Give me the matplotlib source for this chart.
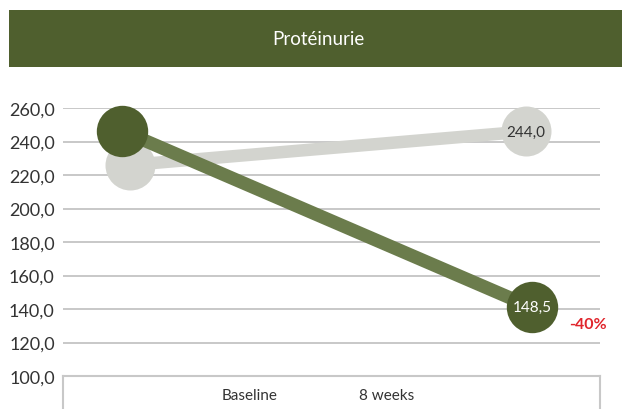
import matplotlib
matplotlib.use("Agg")
import matplotlib.pyplot as plt

plt.rcParams['font.family'] = ['Lato', 'DejaVu Sans']

title = "Protéinurie"
categories = ["Baseline", "8 weeks"]
yticks = [100, 120, 140, 160, 180, 200, 220, 240, 260]
ytick_labels = ["100,0", "120,0", "140,0", "160,0", "180,0", "200,0", "220,0", "240,0", "260,0"]

grey_values = [226.0, 246.0]
green_values = [246.4, 141.0]
grey_end_label = "244,0"
green_end_label = "148,5"
change_label = "-40%"

W, H = 622, 410
fig = plt.figure(figsize=(W / 100, H / 100), dpi=100)

# title bar
bar = fig.add_axes([9 / W, 1 - 68 / H, 1 - 9 / W, 57 / H])
bar.set_facecolor("#4f5f2e")
bar.set_xticks([]); bar.set_yticks([])
for s in bar.spines.values():
    s.set_visible(False)
bar.text(0.505, 0.5, title, color="white", fontsize=13.5, ha="center", va="center",
         transform=bar.transAxes)

# main axes
left, right = 63 / W, 600 / W
ax = fig.add_axes([left, (H - 377) / H, right - left, 268 / H])
ax.set_ylim(100, 260)
ax.set_xlim(-0.157, 1.179)
for s in ax.spines.values():
    s.set_visible(False)
ax.set_yticks(yticks)
ax.set_yticklabels(ytick_labels, fontsize=13, color="#333333")
ax.tick_params(axis="y", length=0, pad=6)
ax.set_xticks([])
for v in yticks[1:]:
    ax.axhline(v, color="#c4c4c4", lw=1.3, zorder=1)

x = [0, 1]
ax.plot([x[0] + 0.01, x[1] - 0.005], grey_values, color="#d3d4cf", lw=9, zorder=2,
        solid_capstyle="butt")
ax.plot([x[0] - 0.01, x[1] + 0.01], green_values, color="#6b7c4c", lw=9.5, zorder=3,
        solid_capstyle="butt")
ax.plot([x[0] + 0.01, x[1] - 0.005], grey_values, "o", color="#d3d4cf", ms=36, mew=0,
        zorder=2.5, clip_on=False)
ax.plot([x[0] - 0.01, x[1] + 0.01], green_values, "o", color="#4f5f2e", ms=37, mew=0,
        zorder=4, clip_on=False)
ax.text(x[1] - 0.005, grey_values[1], grey_end_label, ha="center", va="center",
        fontsize=11, color="#333333", zorder=5)
ax.text(x[1] + 0.01, green_values[1], green_end_label, ha="center", va="center",
        fontsize=11, color="white", zorder=5)
ax.annotate(change_label, (x[1] + 0.01, green_values[1]), xytext=(40, -12),
            textcoords="offset points", ha="center", va="center", fontsize=11.5,
            fontweight="bold", color="#e0252c", annotation_clip=False)

# category box
box = fig.add_axes([left, -0.02, right - left, (410 - 377) / H + 0.02])
box.set_xlim(0, 1); box.set_ylim(0, 1)
box.set_xticks([]); box.set_yticks([])
box.patch.set_alpha(0)
box.spines["bottom"].set_visible(False)
for k in ("top", "left", "right"):
    box.spines[k].set_color("#c8c8c8")
    box.spines[k].set_linewidth(1.5)
cat_x = [(250 - 63) / 537, (387 - 63) / 537]
for cx, lab in zip(cat_x, categories):
    box.text(cx, 0.55, lab, ha="center", va="center", fontsize=11, color="#333333")

fig.savefig("out.png", dpi=100)
